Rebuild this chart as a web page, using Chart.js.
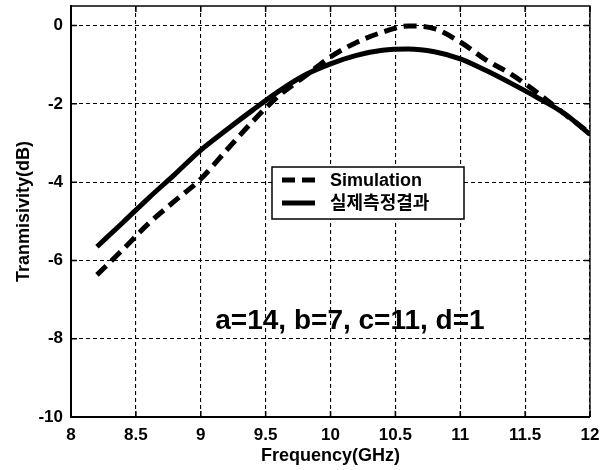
<!DOCTYPE html>
<html>
<head>
<meta charset="utf-8">
<script src="https://cdn.jsdelivr.net/npm/chart.js@4/dist/chart.umd.min.js"></script>
<style>
  html, body { margin: 0; padding: 0; background: #fff; }
  canvas { display: block; }
</style>
</head>
<body>
<canvas id="chart" width="608" height="470"></canvas>
<script>
// Frequency sweep (GHz) shared by both curves
const freqGHz = [8.2, 8.4, 8.6, 8.8, 9.0, 9.2, 9.4, 9.6, 9.8, 10.0,
                 10.2, 10.4, 10.6, 10.8, 11.0, 11.2, 11.4, 11.6, 11.8, 12.0];

// Transmissivity (dB)
const simulation = [-6.37, -5.72, -5.05, -4.48, -3.92, -3.18, -2.45, -1.80, -1.30, -0.80,
                    -0.43, -0.17, -0.01, -0.08, -0.42, -0.88, -1.26, -1.73, -2.25, -2.75];
const measured   = [-5.65, -5.03, -4.40, -3.80, -3.18, -2.66, -2.16, -1.68, -1.27, -0.98,
                    -0.76, -0.63, -0.60, -0.67, -0.85, -1.15, -1.49, -1.85, -2.24, -2.78];

const seriesNames = ['Simulation', '실제측정결과'];
const xTickValues = [8, 8.5, 9, 9.5, 10, 10.5, 11, 11.5, 12];
const yTickValues = [-10, -8, -6, -4, -2, 0];
const xTitle = 'Frequency(GHz)';
const yTitle = 'Tranmisivity(dB)';
const paramLabel = 'a=14, b=7, c=11, d=1';

const FONT = "'Liberation Sans', Arial, 'Noto Sans CJK KR', sans-serif";
const toPoints = (xs, ys) => xs.map((x, i) => ({ x, y: ys[i] }));

// Box frame, inward tick marks, parameter note and the legend box
const decorations = {
  id: 'decorations',
  afterDraw(chart) {
    const { ctx, chartArea: a, scales: { x, y } } = chart;
    ctx.save();
    ctx.strokeStyle = '#000';
    ctx.lineWidth = 1.3;
    ctx.beginPath();
    ctx.moveTo(a.left, a.top);
    ctx.lineTo(a.right, a.top);
    ctx.lineTo(a.right, a.bottom);
    ctx.stroke();

    const tl = 6;
    ctx.lineWidth = 1.5;
    ctx.beginPath();
    xTickValues.forEach(v => {
      const px = x.getPixelForValue(v);
      ctx.moveTo(px, a.bottom); ctx.lineTo(px, a.bottom - tl);
      ctx.moveTo(px, a.top);    ctx.lineTo(px, a.top + tl);
    });
    yTickValues.forEach(v => {
      const py = y.getPixelForValue(v);
      ctx.moveTo(a.left, py);  ctx.lineTo(a.left + tl, py);
      ctx.moveTo(a.right, py); ctx.lineTo(a.right - tl, py);
    });
    ctx.stroke();

    // parameter note
    ctx.fillStyle = '#000';
    ctx.font = 'bold 28px ' + FONT;
    ctx.textAlign = 'center';
    ctx.textBaseline = 'alphabetic';
    ctx.fillText(paramLabel, x.getPixelForValue(10.15), y.getPixelForValue(-7.75));

    // legend
    const lx = a.left + 201, ly = a.top + 161, lw = 192, lh = 52;
    ctx.fillStyle = '#fff';
    ctx.fillRect(lx, ly, lw, lh);
    ctx.lineWidth = 1.5;
    ctx.strokeStyle = '#000';
    ctx.strokeRect(lx, ly, lw, lh);
    chart.data.datasets.forEach((ds, i) => {
      const rowY = ly + 13 + i * 23;
      ctx.save();
      ctx.lineWidth = ds.borderWidth;
      ctx.setLineDash(ds.borderDash || []);
      ctx.beginPath();
      ctx.moveTo(lx + 10, rowY);
      ctx.lineTo(lx + 43, rowY);
      ctx.stroke();
      ctx.restore();
      ctx.fillStyle = '#000';
      ctx.font = 'bold 18px ' + FONT;
      ctx.textAlign = 'left';
      ctx.textBaseline = 'middle';
      ctx.fillText(ds.label, lx + 58, rowY + 1);
    });
    ctx.restore();
  }
};

const gridStyle = { color: '#000', lineWidth: 1.1, drawTicks: false };

new Chart(document.getElementById('chart'), {
  type: 'line',
  data: {
    datasets: [
      {
        label: seriesNames[0],
        data: toPoints(freqGHz, simulation),
        borderColor: '#000',
        borderWidth: 5,
        borderDash: [13, 7],
        pointRadius: 0,
        cubicInterpolationMode: 'monotone',
        fill: false
      },
      {
        label: seriesNames[1],
        data: toPoints(freqGHz, measured),
        borderColor: '#000',
        borderWidth: 5,
        pointRadius: 0,
        cubicInterpolationMode: 'monotone',
        fill: false
      }
    ]
  },
  options: {
    responsive: false,
    devicePixelRatio: 1,
    animation: false,
    layout: { padding: { top: 6, right: 18, left: 0, bottom: 0 } },
    plugins: { legend: { display: false }, tooltip: { enabled: false } },
    scales: {
      x: {
        type: 'linear',
        min: 8, max: 12,
        afterFit: s => { s.height = 53; s.paddingLeft = 0; s.paddingRight = 0; },
        afterBuildTicks: s => { s.ticks = xTickValues.map(v => ({ value: v })); },
        ticks: {
          autoSkip: false, maxRotation: 0, padding: 8, color: '#000',
          font: { family: FONT, size: 17, weight: 'bold' },
          callback: v => String(v)
        },
        grid: gridStyle,
        border: { display: true, color: '#000', width: 2, dash: [4, 3] },
        title: {
          display: true, text: xTitle, color: '#000',
          font: { family: FONT, size: 18, weight: 'bold' },
          padding: { top: 0, bottom: 3 }
        }
      },
      y: {
        type: 'linear',
        min: -10, max: 0.5,
        afterFit: s => { s.width = 71; s.paddingTop = 0; s.paddingBottom = 0; },
        afterBuildTicks: s => { s.ticks = yTickValues.map(v => ({ value: v })); },
        ticks: {
          padding: 8, color: '#000',
          font: { family: FONT, size: 17, weight: 'bold' },
          callback: v => String(v)
        },
        grid: gridStyle,
        border: { display: true, color: '#000', width: 2, dash: [4, 3] },
        title: {
          display: true, text: yTitle, color: '#000',
          font: { family: FONT, size: 18, weight: 'bold' },
          padding: { top: 13, bottom: 0 }
        }
      }
    }
  },
  plugins: [decorations]
});
</script>
</body>
</html>
